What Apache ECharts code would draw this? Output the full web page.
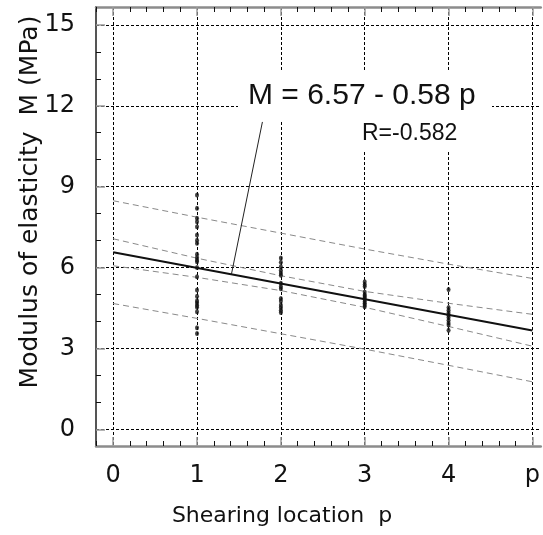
<!DOCTYPE html>
<html>
<head>
<meta charset="utf-8">
<script src="https://cdn.jsdelivr.net/npm/echarts@6/dist/echarts.min.js"></script>
<style>
  html, body { margin: 0; padding: 0; background: #fff; }
  #chart { width: 543px; height: 535px; }
</style>
</head>
<body>
<div id="chart"></div>
<script>
// Shearing locations and the measured modulus of elasticity at each one (MPa)
const locations = [1, 2, 3, 4];
const modulusAtP1 = [8.69, 8.20, 7.83, 7.70, 7.52, 7.21, 7.02, 6.90, 6.50, 6.38, 6.28, 6.22, 6.01,
                     5.66, 5.17, 4.94, 4.77, 4.70, 4.61, 4.53, 4.37, 3.77, 3.56];
const modulusAtP2 = [6.36, 6.20, 6.03, 5.90, 5.80, 5.72, 5.42, 5.30, 5.22, 4.86, 4.76, 4.62, 4.52, 4.42, 4.34];
const modulusAtP3 = [5.48, 5.38, 5.30, 5.10, 5.00, 4.95, 4.88, 4.82, 4.75, 4.68, 4.62, 4.55];
const modulusAtP4 = [5.19, 4.52, 4.42, 4.33, 4.24, 4.15, 4.05, 3.95, 3.87, 3.68];

// Linear fit M = a + b p and its correlation
const fitIntercept = 6.57;
const fitSlope = -0.58;
const fitR = -0.582;
const fitRange = [0, 5];

// Confidence (inner) and prediction (outer) bands, sampled along p
const bandP = [0, 1, 2, 3, 4, 5];
const confUpper = [7.07, 6.35, 5.70, 5.12, 4.68, 4.27];
const confLower = [6.07, 5.64, 5.15, 4.53, 3.82, 3.09];
const predUpper = [8.48, 7.87, 7.28, 6.69, 6.13, 5.60];
const predLower = [4.67, 4.12, 3.55, 2.98, 2.38, 1.77];

// Leader from the fitted line up to the equation
const leaderP = [1.41, 1.78];
const leaderM = [5.75, 11.40];

// Axis ticks and labels
const xMajorTicks = [0, 1, 2, 3, 4, 5];
const xTickLabels = ['0', '1', '2', '3', '4', 'p'];
const yMajorTicks = [0, 3, 6, 9, 12, 15];
const yTickLabels = ['0', '3', '6', '9', '12', '15'];

const xMinorTicks = [];
for (let i = -1; i <= 25; i++) { if (i % 5 !== 0) xMinorTicks.push(+(i * 0.2).toFixed(1)); }
const yMinorTicks = [];
for (let i = 0; i <= 15; i++) { if (i % 3 !== 0) yMinorTicks.push(i); }

const X_MIN = -0.205, X_MAX = 5.1, Y_MIN = -0.61, Y_MAX = 15.66;
const axisFont = 'DejaVu Sans';
const textFont = 'Liberation Sans, Arial, sans-serif';

const allColumns = [modulusAtP1, modulusAtP2, modulusAtP3, modulusAtP4];
const points = [];
allColumns.forEach((col, i) => col.forEach(v => points.push([locations[i], v])));

const zip = (xs, ys) => xs.map((x, i) => [x, ys[i]]);

function majorX(position, labels) {
  return {
    type: 'value', position, min: X_MIN, max: X_MAX,
    axisLine: { show: true, onZero: false, lineStyle: { color: '#8c8c8c', width: 2.5 } },
    axisTick: { show: true, inside: true, length: 9, customValues: xMajorTicks,
                lineStyle: { color: '#9a9a9a', width: 1.5 } },
    axisLabel: { show: labels, customValues: xMajorTicks, margin: 18,
                 formatter: v => xTickLabels[xMajorTicks.indexOf(v)],
                 fontFamily: axisFont, fontSize: 24, color: '#111' },
    splitLine: { show: labels, lineStyle: { color: '#000', width: 1, type: [3, 2] } }
  };
}
function minorX(position) {
  return {
    type: 'value', position, min: X_MIN, max: X_MAX,
    axisLine: { show: false, onZero: false },
    axisTick: { show: true, inside: true, length: 5, customValues: xMinorTicks,
                lineStyle: { color: '#111', width: 1 } },
    axisLabel: { show: false }, splitLine: { show: false }
  };
}

const option = {
  animation: false,
  backgroundColor: '#fff',
  grid: { left: 96, top: 7, width: 447, height: 439, containLabel: false },
  xAxis: [majorX('bottom', true), minorX('bottom'), majorX('top', false), minorX('top')],
  yAxis: [
    {
      type: 'value', position: 'left', min: Y_MIN, max: Y_MAX,
      axisLine: { show: true, onZero: false, lineStyle: { color: '#555', width: 2 } },
      axisTick: { show: true, inside: true, length: 9, customValues: yMajorTicks,
                  lineStyle: { color: '#9a9a9a', width: 1.5 } },
      axisLabel: { show: true, customValues: yMajorTicks, margin: 21,
                   formatter: v => yTickLabels[yMajorTicks.indexOf(v)],
                   fontFamily: axisFont, fontSize: 24, color: '#111' },
      splitLine: { show: true, lineStyle: { color: '#000', width: 1, type: [3, 2] } }
    },
    {
      type: 'value', position: 'left', min: Y_MIN, max: Y_MAX,
      axisLine: { show: false, onZero: false },
      axisTick: { show: true, inside: true, length: 5, customValues: yMinorTicks,
                  lineStyle: { color: '#111', width: 1 } },
      axisLabel: { show: false }, splitLine: { show: false }
    }
  ],
  series: [
    { type: 'line', data: zip(bandP, predUpper), symbol: 'none', silent: true,
      lineStyle: { color: '#8a8a8a', width: 1, type: [6, 4] } },
    { type: 'line', data: zip(bandP, predLower), symbol: 'none', silent: true,
      lineStyle: { color: '#8a8a8a', width: 1, type: [6, 4] } },
    { type: 'line', data: zip(bandP, confUpper), symbol: 'none', silent: true,
      lineStyle: { color: '#8a8a8a', width: 1, type: [6, 4] } },
    { type: 'line', data: zip(bandP, confLower), symbol: 'none', silent: true,
      lineStyle: { color: '#8a8a8a', width: 1, type: [6, 4] } },
    { type: 'line', data: fitRange.map(p => [p, fitIntercept + fitSlope * p]), symbol: 'none',
      silent: true, lineStyle: { color: '#111', width: 2 } },
    { type: 'line', data: zip(leaderP, leaderM), symbol: 'none', silent: true,
      lineStyle: { color: '#222', width: 1 } },
    { type: 'scatter', data: points, symbol: 'circle', symbolSize: [4, 5],
      itemStyle: { color: '#111' }, z: 5 }
  ],
  graphic: [
    { type: 'rect', shape: { x: 238, y: 72, width: 254, height: 48 }, style: { fill: '#fff' }, z: 50 },
    { type: 'rect', shape: { x: 355, y: 118, width: 115, height: 32 }, style: { fill: '#fff' }, z: 50 },
    { type: 'text', x: 248, y: 96, z: 51,
      style: { text: 'M = ' + fitIntercept.toFixed(2) + ' - ' + Math.abs(fitSlope).toFixed(2) + ' p',
               font: '30px ' + textFont, fill: '#111', align: 'left', verticalAlign: 'middle' } },
    { type: 'text', x: 362, y: 134, z: 51,
      style: { text: 'R=' + fitR.toFixed(3), font: '23px ' + textFont, fill: '#111',
               align: 'left', verticalAlign: 'middle' } },
    { type: 'text', x: 282, y: 516, z: 51,
      style: { text: 'Shearing location  p', font: '22px ' + axisFont, fill: '#111',
               align: 'center', verticalAlign: 'middle' } },
    { type: 'text', x: 30, y: 202, rotation: Math.PI / 2, z: 51,
      style: { text: 'Modulus of elasticity  M (MPa)', font: '25px ' + axisFont, fill: '#111',
               align: 'center', verticalAlign: 'middle' } }
  ]
};

const chart = echarts.init(document.getElementById('chart'), null, { renderer: 'canvas' });
chart.setOption(option);
</script>
</body>
</html>
